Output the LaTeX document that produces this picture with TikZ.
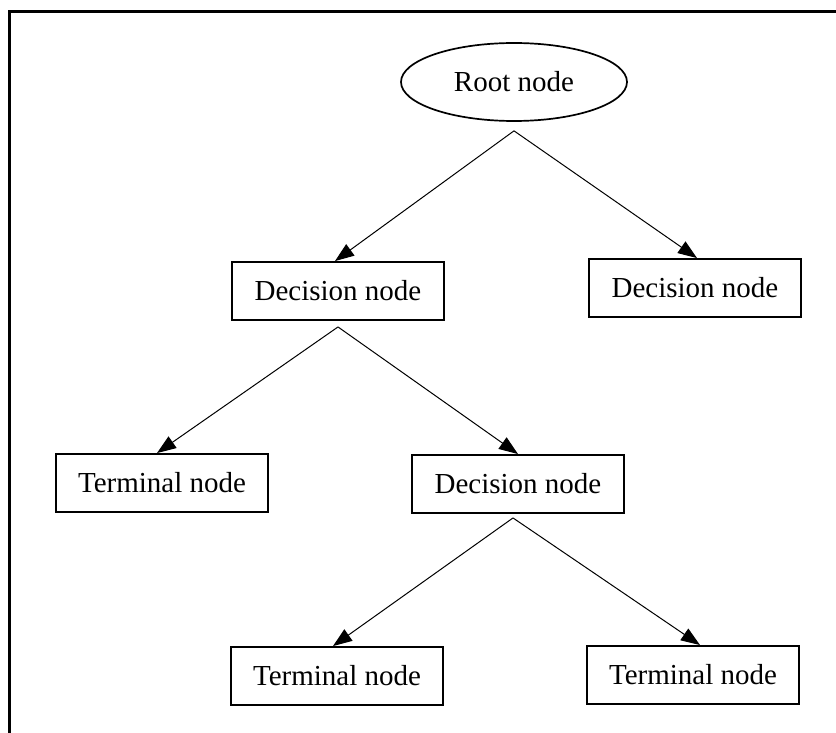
\documentclass[tikz,border=0pt]{standalone}
\usepackage{fontspec}
\setmainfont{Liberation Serif}
\usetikzlibrary{shapes.geometric,arrows.meta}
\begin{document}
\begin{tikzpicture}[x=1pt,y=-1pt,
  box/.style={draw,line width=1.9pt,minimum width=212pt,minimum height=58pt,inner sep=0pt,font=\fontsize{29}{33}\selectfont},
  rootshape/.style={ellipse,draw,line width=1.7pt,minimum width=226pt,minimum height=78pt,inner sep=0pt,font=\fontsize{29}{33}\selectfont},
  arr/.style={line width=1pt,-{Triangle[length=19pt,width=14pt]}}]
\useasboundingbox (0,0) rectangle (836,733);
\draw[line width=3pt,line join=miter] (9,733) -- (9,12) -- (836,12);
\node[rootshape] (root) at (514,82) {Root node};
\node[box] (dec1) at (338,291) {Decision node};
\node[box] (decR) at (695,288) {Decision node};
\node[box] (termL) at (162,483) {Terminal node};
\node[box] (decM) at (518,484) {Decision node};
\node[box] (termBL) at (337,676) {Terminal node};
\node[box] (termBR) at (693,675) {Terminal node};
\coordinate (r0) at ([yshift=-9pt]root.south);
\coordinate (d0) at ([yshift=-6pt]dec1.south);
\coordinate (m0) at ([xshift=-5pt,yshift=-4pt]decM.south);
\draw[arr] (r0) -- ([xshift=-3pt]dec1.north);
\draw[arr] (r0) -- ([xshift=2pt]decR.north);
\draw[arr] (d0) -- ([xshift=-5pt]termL.north);
\draw[arr] (d0) -- (decM.north);
\draw[arr] (m0) -- ([xshift=-4pt]termBL.north);
\draw[arr] (m0) -- ([xshift=7pt]termBR.north);
\end{tikzpicture}
\end{document}
